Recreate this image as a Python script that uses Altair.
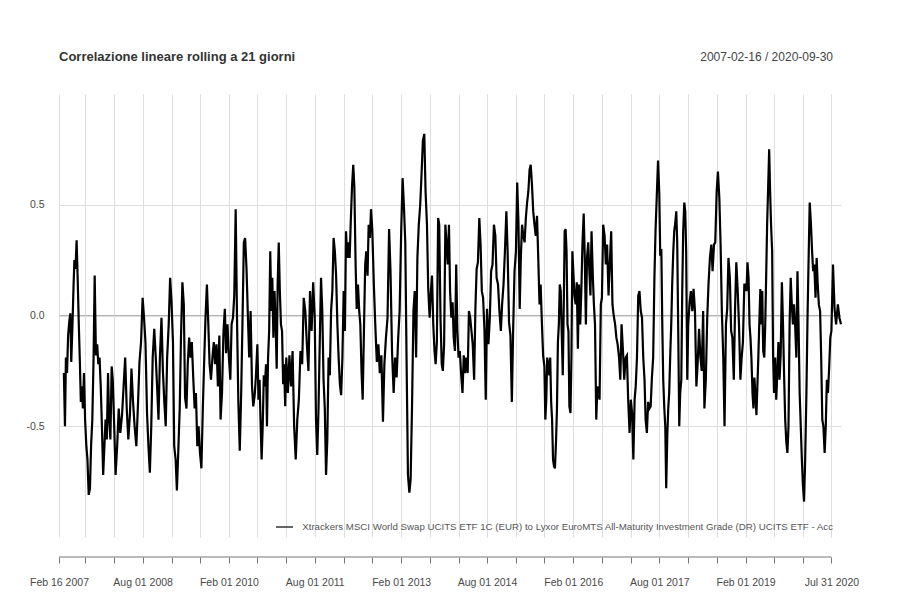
import json
import altair as alt
import pandas as pd

TITLE = "Correlazione lineare rolling a 21 giorni"
RANGE_TEXT = "2007-02-16 / 2020-09-30"
LEGEND = ("Xtrackers MSCI World Swap UCITS ETF 1C (EUR) to Lyxor EuroMTS "
          "All-Maturity Investment Grade (DR) UCITS ETF - Acc")

# half-year segment boundaries (series starts once the 21-day window is full)
bounds = ["2007-03-19", "2007-08-01", "2008-02-01", "2008-08-01", "2009-02-01",
          "2009-08-01", "2010-02-01", "2010-08-01", "2011-02-01", "2011-08-01",
          "2012-02-01", "2012-08-01", "2013-02-01", "2013-08-01", "2014-02-01",
          "2014-08-01", "2015-02-01", "2015-08-01", "2016-02-01", "2016-08-01",
          "2017-02-01", "2017-08-01", "2018-02-01", "2018-08-01", "2019-02-01",
          "2019-08-01", "2020-02-01", "2020-07-31", "2020-09-30"]

# rolling correlation values, one list per segment
p00 = [-0.26, -0.50, -0.19, -0.26, -0.09, -0.03, 0.01, -0.21, -0.06, 0.12, 0.25, 0.21,
       0.34, 0.16, -0.04, -0.19, -0.39, -0.32, -0.42, -0.26]
p01 = [-0.47, -0.59, -0.65, -0.81, -0.78, -0.59, -0.47, -0.19, 0.18, -0.18, -0.13, -0.22,
       -0.19, -0.33, -0.50, -0.72, -0.59, -0.47, -0.56, -0.26, -0.47, -0.56, -0.23, -0.29]
p02 = [-0.47, -0.72, -0.59, -0.42, -0.53, -0.45, -0.32, -0.19, -0.42, -0.56, -0.45, -0.24,
       -0.39, -0.50, -0.59, -0.41, -0.21, -0.12]
p03 = [0.08, -0.01, -0.12, -0.44, -0.59, -0.71, -0.50, -0.19, -0.06, -0.18, -0.32, -0.47,
       -0.19, -0.01, -0.25, -0.39, -0.50, -0.19, -0.04, 0.17]
p04 = [0.06, -0.12, -0.59, -0.65, -0.79, -0.61, -0.42, -0.10, 0.15, 0.05, -0.37, -0.42,
       -0.22, -0.10, -0.19, -0.12, -0.28, -0.42, -0.35, -0.59, -0.50]
p05 = [-0.62, -0.69, -0.42, -0.22, -0.01, 0.14, -0.04, -0.22, -0.29, -0.19, -0.12, -0.22,
       -0.13, -0.32, -0.09, -0.47, -0.35, -0.08, 0.03, -0.17, -0.04]
p06 = [-0.19, -0.29, -0.04, -0.01, 0.09, 0.48, -0.04, -0.39, -0.61, -0.35, -0.04, 0.33,
       0.35, 0.21, -0.01, -0.19, 0.02, -0.32, -0.41, -0.36, -0.27]
p07 = [-0.13, -0.38, -0.29, -0.47, -0.65, -0.50, -0.27, -0.32, -0.22, -0.50, -0.19, -0.07,
       0.29, 0.02, 0.17, -0.10, 0.11, -0.03, -0.24, 0.14, 0.33, 0.11, -0.04, -0.07, -0.31,
       -0.22, -0.41]
p08 = [-0.19, -0.35, -0.18, -0.32, -0.16, -0.50, -0.65, -0.47, -0.38, -0.16, -0.22, 0.08,
       0.02, -0.13, -0.25, 0.11, -0.07, 0.15]
p09 = [-0.01, -0.47, -0.63, -0.42, -0.12, 0.17, 0.02, -0.29, -0.42, -0.72, -0.56, -0.19,
       -0.27, 0.02, 0.11, 0.35, 0.29, 0.18, -0.04, -0.19, -0.31, -0.36, -0.19]
p10 = [0.11, -0.07, 0.38, 0.26, 0.33, 0.26, 0.42, 0.58, 0.68, 0.58, 0.23, 0.03, 0.14, 0.02,
       -0.04, -0.26, -0.38, -0.07, 0.23, 0.29, 0.18, 0.41, 0.35, 0.48]
p11 = [0.39, 0.14, -0.04, -0.21, -0.13, -0.26, -0.18, -0.48, -0.22, -0.10, -0.01, 0.39,
       0.20, -0.17, -0.35, -0.19, -0.28, -0.10, 0.02]
p12 = [0.38, 0.62, 0.50, 0.33, -0.19, -0.72, -0.80, -0.74, -0.41, 0.02, 0.11, -0.19, 0.26,
       0.41, 0.50, 0.63, 0.79, 0.82, 0.56, 0.41, 0.12]
p13 = [-0.01, 0.11, 0.18, -0.04, -0.16, -0.22, -0.12, 0.44, 0.41, -0.01, -0.22, -0.25,
       -0.13, 0.41, 0.33, 0.23, 0.41, 0.11, -0.01, 0.06, -0.10, -0.16, 0.23, -0.06]
p14 = [-0.19, -0.16, -0.26, -0.35, -0.18, -0.26, -0.19, -0.26, 0.02, -0.01, -0.07, -0.13,
       -0.29, 0.03, 0.21, 0.24, 0.44, 0.32, 0.11, 0.08, -0.07, -0.38]
p15 = [0.03, -0.13, -0.01, 0.20, 0.23, 0.41, 0.36, 0.17, 0.14, 0.02, -0.07, 0.05, 0.14,
       0.29, 0.47, 0.29, -0.03, -0.09, -0.39, -0.07, 0.20]
p16 = [0.29, 0.60, 0.42, 0.03, 0.26, 0.41, 0.36, 0.33, 0.44, 0.51, 0.56, 0.66, 0.68, 0.59,
       0.47, 0.41, 0.36, 0.45, 0.26, 0.05, 0.14, -0.03, -0.18]
p17 = [-0.23, -0.47, -0.38, -0.19, -0.22, -0.27, -0.19, -0.39, -0.47, -0.65, -0.68, -0.69,
       -0.57, -0.42, -0.12, -0.04, 0.14, 0.11, -0.07, -0.27, 0.03, 0.38, 0.39, 0.29, -0.04,
       -0.07, -0.41, -0.44, -0.19, 0.29]
p18 = [0.20, 0.09, 0.05, 0.15, -0.15, 0.14, -0.04, 0.11, 0.32, 0.46, 0.26, -0.04, 0.26,
       0.33, 0.20, 0.09, 0.38, 0.18, 0.05, -0.04, -0.47, -0.32, -0.35, -0.38, 0.05]
p19 = [0.08, 0.41, 0.36, 0.23, 0.32, 0.09, 0.23, 0.38, 0.05, 0.00, -0.04, -0.10, -0.13,
       -0.19, -0.29, -0.04, -0.16, -0.29, -0.19, -0.18, -0.38, -0.53]
p20 = [-0.38, -0.44, -0.65, -0.38, -0.32, -0.19, 0.09, 0.11, 0.02, -0.01, -0.19, -0.29,
       -0.47, -0.53, -0.39, -0.42, -0.41, -0.28, -0.19, 0.17, 0.38, 0.54, 0.70]
p21 = [0.55, 0.27, 0.30, -0.04, -0.29, -0.42, -0.50, -0.78, -0.54, -0.42, -0.35, -0.17,
       -0.04, 0.14, 0.29, 0.38, 0.42, 0.47, 0.33, -0.10, -0.50, -0.35, -0.29, 0.11, 0.38,
       0.51, 0.47, 0.29, -0.29]
p22 = [-0.04, 0.06, 0.11, 0.02, 0.12, 0.02, -0.32, -0.22, -0.06, -0.19, -0.25, 0.02,
       -0.42, -0.29, -0.01, 0.14, 0.26, 0.32, 0.20, 0.32, 0.33]
p23 = [0.56, 0.65, 0.53, 0.32, 0.02, -0.19, -0.50, -0.04, 0.03, 0.26, 0.17, -0.07, -0.10,
       -0.29, 0.03, 0.24, 0.11, -0.04, -0.29, -0.19, -0.12, 0.14]
p24 = [0.14, 0.11, 0.24, 0.17, -0.04, -0.10, -0.19, -0.35, -0.42, -0.28, -0.35, -0.45,
       -0.32, -0.19, -0.04, 0.12, -0.04, 0.11, -0.16, -0.19, -0.04, 0.18, 0.41, 0.59, 0.75,
       0.56, 0.41, 0.29, -0.18]
p25 = [-0.35, -0.19, -0.38, -0.26, -0.12, -0.29, -0.18, 0.15, -0.04, -0.27, -0.47, -0.57,
       -0.62, -0.50, -0.04, 0.17, 0.05, -0.04, 0.05, -0.04, -0.19, 0.20, -0.04, -0.35, -0.50,
       -0.65]
p26 = [-0.77, -0.84, -0.65, -0.35, -0.01, 0.26, 0.51, 0.41, 0.29, 0.20, 0.23, 0.08, 0.26,
       0.14, 0.05, 0.02, -0.19, -0.47, -0.50, -0.62, -0.50, -0.29, -0.35, -0.23, -0.10]
p27 = [-0.07, 0.23, 0.03, -0.04, 0.05, -0.01, -0.04]

periods = [p00, p01, p02, p03, p04, p05, p06, p07, p08, p09, p10, p11, p12, p13, p14,
           p15, p16, p17, p18, p19, p20, p21, p22, p23, p24, p25, p26, p27]

# axis ticks (every ~6 months) and the labelled ones
tick_dates = ["2007-02-16", "2007-08-01", "2008-02-01", "2008-08-01", "2009-02-01",
              "2009-08-01", "2010-02-01", "2010-08-01", "2011-02-01", "2011-08-01",
              "2012-02-01", "2012-08-01", "2013-02-01", "2013-08-01", "2014-02-01",
              "2014-08-01", "2015-02-01", "2015-08-01", "2016-02-01", "2016-08-01",
              "2017-02-01", "2017-08-01", "2018-02-01", "2018-08-01", "2019-02-01",
              "2019-08-01", "2020-02-01", "2020-07-31"]
label_dates = ["2007-02-16", "2008-08-01", "2010-02-01", "2011-08-01", "2013-02-01",
               "2014-08-01", "2016-02-01", "2017-08-01", "2019-02-01", "2020-07-31"]
y_ticks = [-0.5, 0.0, 0.5]
x_start, x_end = "2007-02-16", "2020-09-30"

# ---- build table ----
rows = []
for i, vals in enumerate(periods):
    s, e = pd.Timestamp(bounds[i]), pd.Timestamp(bounds[i + 1])
    n = len(vals)
    if i == len(periods) - 1:
        ds = pd.date_range(s, e, periods=n)
    else:
        ds = pd.date_range(s, e, periods=n + 1)[:-1]
    for d, v in zip(ds.round("D"), vals):
        rows.append({"date": d, "corr": v})
df = pd.DataFrame(rows)


def dt(s):
    y, m, d = (int(p) for p in s.split("-"))
    return alt.DateTime(year=y, month=m, date=d)


FONT = "Liberation Sans"
LABEL_COL = "#4a4a4a"

label_expr = ("indexof(" + json.dumps(label_dates).replace('"', "'") +
              ", timeFormat(datum.value, '%Y-%m-%d')) >= 0 ? "
              "timeFormat(datum.value, '%b %d %Y') : ''")

x_scale = alt.Scale(domain=[dt(x_start), dt(x_end)], nice=False)
y_scale = alt.Scale(domain=[-1, 1], nice=False, zero=False)

x_axis = alt.Axis(values=[dt(t) for t in tick_dates], labelExpr=label_expr,
                  title=None, grid=True, gridColor="#dedede", gridWidth=1,
                  domain=False, ticks=True, tickColor="#777777", tickSize=6,
                  offset=20, labelPadding=14, labelFont=FONT, labelFontSize=10.5,
                  labelColor=LABEL_COL, labelOverlap=False, labelFlush=False)
y_axis = alt.Axis(values=y_ticks, title=None, grid=True, gridColor="#dedede",
                  gridWidth=1, domain=False, ticks=False, labelPadding=15,
                  labelFont=FONT, labelFontSize=10.5, labelColor=LABEL_COL,
                  labelExpr="datum.value < 0 ? '-' + format(-datum.value, '.1f') : format(datum.value, '.1f')")

base = alt.Chart(df)

zero_rule = alt.Chart(pd.DataFrame({"y": [0.0]})).mark_rule(
    color="#b4b4b4", strokeWidth=1).encode(y=alt.Y("y:Q", scale=y_scale, axis=y_axis))

line = base.mark_line(color="black", strokeWidth=2.2, strokeJoin="miter").encode(
    x=alt.X("date:T", scale=x_scale, axis=x_axis),
    y=alt.Y("corr:Q", scale=y_scale, axis=y_axis),
)

axis_line = alt.Chart(pd.DataFrame({"s": [pd.Timestamp(tick_dates[0])],
                                    "e": [pd.Timestamp(tick_dates[-1])]})).mark_rule(
    color="#777777", strokeWidth=1).encode(
    x=alt.X("s:T", scale=x_scale, axis=x_axis), x2="e:T", y=alt.value(463))

title_txt = alt.Chart(pd.DataFrame({"t": [TITLE]})).mark_text(
    align="left", baseline="alphabetic", font=FONT, fontSize=13, fontWeight="bold",
    color="#333333").encode(text="t:N", x=alt.value(0), y=alt.value(-33))

range_txt = alt.Chart(pd.DataFrame({"t": [RANGE_TEXT]})).mark_text(
    align="right", baseline="alphabetic", font=FONT, fontSize=12,
    color="#444444").encode(text="t:N", x=alt.value(774), y=alt.value(-33))

legend_line = alt.Chart(pd.DataFrame({"t": [LEGEND]})).mark_rule(
    color="#333333", strokeWidth=1.5).encode(
    x=alt.value(217), x2=alt.value(234), y=alt.value(433))

legend_txt = alt.Chart(pd.DataFrame({"t": [LEGEND]})).mark_text(
    align="right", baseline="middle", font=FONT, fontSize=9.7,
    color="#555555").encode(text="t:N", x=alt.value(774), y=alt.value(433))

chart = alt.layer(zero_rule, line, axis_line, title_txt, range_txt, legend_line,
                  legend_txt).properties(
    width=782, height=443,
    background="white",
    autosize=alt.AutoSizeParams(type="none"),
    padding={"left": 51, "top": 86, "right": 45, "bottom": 55},
).configure_view(strokeWidth=0, stroke="transparent")

chart.save("out.html", embed_options={"renderer": "svg", "actions": False})
